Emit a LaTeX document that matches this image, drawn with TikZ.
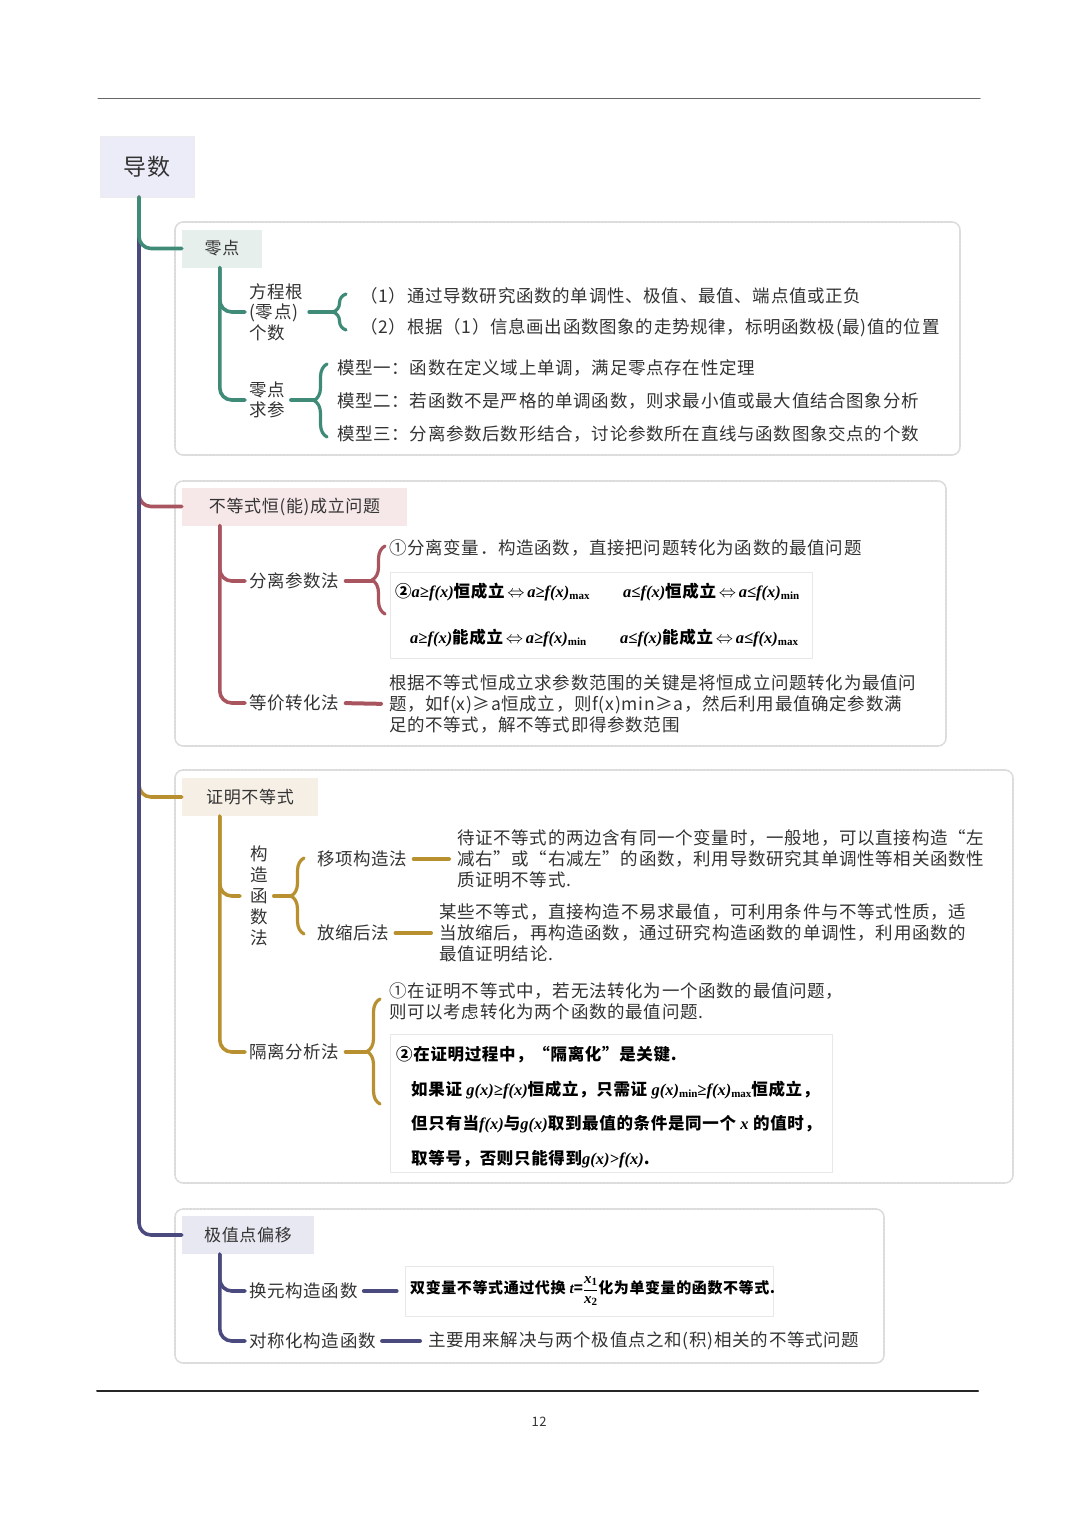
\documentclass[tikz,border=0pt]{standalone}
\usepackage{fontspec}
\setmainfont[LetterSpace=4]{Noto Sans CJK SC}
\newfontfamily\tnr{Liberation Serif}
\usetikzlibrary{decorations.pathreplacing}

\definecolor{ink}{HTML}{333333}
\definecolor{grn}{HTML}{3F8B78}
\definecolor{rdd}{HTML}{A85560}
\definecolor{gld}{HTML}{B8902F}
\definecolor{nvy}{HTML}{4A4A7E}
\definecolor{hgrn}{HTML}{E6EFEC}
\definecolor{hrdd}{HTML}{F6E7E9}
\definecolor{hgld}{HTML}{F6EFE6}
\definecolor{hnvy}{HTML}{E7E8F1}
\definecolor{lav}{HTML}{EBECF8}

\newcommand\itx[1]{{\tnr\bfseries\itshape #1}}
\newcommand\lowtx[1]{{\tnr\bfseries\fontsize{11}{11}\selectfont\raisebox{-0.4ex}{#1}}}
\newcommand\equivto{\,$\Leftrightarrow$\,}

\begin{document}
\begin{tikzpicture}[x=1pt,y=-1pt,line cap=round,line join=round,
  limb/.style={draw=#1,line width=3.6pt,rounded corners=12pt},
  stub/.style={draw=#1,line width=4pt,shorten <=6pt,shorten >=8pt},
  bstub/.style={draw=#1,line width=4pt,shorten <=6pt},
  brc/.style={draw=#1,line width=3.2pt,decorate,decoration={brace,amplitude=13pt}},
  frm/.style={draw=gray!28,line width=1.6pt,dash pattern=on 2.5pt off 1pt,rounded corners=8pt,fill=white},
  hdr/.style={fill=#1,minimum height=38pt,inner sep=0pt,text=ink,font=\fontsize{17}{20}\selectfont},
  txt/.style={anchor=west,inner sep=0pt,text=ink,align=left,font=\fontsize{17.5}{21}\selectfont},
  fml/.style={anchor=west,inner sep=0pt,text=black,font=\fontsize{16.5}{19}\selectfont\bfseries},
  picbx/.style={draw=gray!18,line width=0.8pt,fill=white}]
\useasboundingbox (0,0) rectangle (1080,1517);
\fill[white] (0,0) rectangle (1080,1517);

% page rules
\draw[gray!80!black,line width=1pt] (98,99) -- (980,99);
\draw[black!85,line width=2pt] (97,1391) -- (978,1391);
\node[text=ink,font=\fontsize{13}{13}\selectfont] (pg) at (539,1422) {12};

% frames
\draw[frm] (175,222) rectangle (960,455);
\draw[frm] (175,481) rectangle (946,746);
\draw[frm] (175,770) rectangle (1013,1183);
\draw[frm] (175,1209) rectangle (884,1363);

% root and headers
\node[fill=lav,draw=gray!15,minimum width=94pt,minimum height=61pt,text=ink,font=\fontsize{23}{23}\selectfont] (root) at (147,166.5) {导数};
\node[hdr=hgrn,minimum width=80pt] (hz) at (222,248.5) {零点};
\node[hdr=hrdd,minimum width=225pt] (hb) at (294.5,506.5) {不等式恒(能)成立问题};
\node[hdr=hgld,minimum width=136pt] (hp) at (250,797) {证明不等式};
\node[hdr=hnvy,minimum width=132pt] (hj) at (248,1235) {极值点偏移};

% main branches
\draw[limb=rdd] ([xshift=-8pt]root.south) |- (hb.west);
\draw[limb=gld] ([xshift=-8pt]root.south) |- (hp.west);
\draw[limb=nvy] ([xshift=-8pt]root.south) |- (hj.west);
\draw[limb=grn] ([xshift=-8pt]root.south) |- (hz.west);

% ---- 零点
\node[txt,font=\fontsize{17.5}{20.5}\selectfont] (fcg) at (249,312) {方程根\\(零点)\\个数};
\node[txt,font=\fontsize{17.5}{20.5}\selectfont] (lqc) at (249,400) {零点\\求参};
\draw[limb=grn] ([xshift=38pt]hz.south west) |- ([xshift=-4pt]fcg.west);
\draw[limb=grn] ([xshift=38pt]hz.south west) |- ([xshift=-4pt]lqc.west);
\coordinate (t1) at (333,312);
\draw[brc=grn] (346,330) -- (346,294);
\draw[bstub=grn] (fcg.east) -- (t1);
\node[txt] (z1) at (360,296) {（1）通过导数研究函数的单调性、极值、最值、端点值或正负};
\node[txt] (z2) at (360,328) {（2）根据（1）信息画出函数图象的走势规律，标明函数极(最)值的位置};
\coordinate (t2) at (314,400);
\draw[brc=grn] (327,437) -- (327,364);
\draw[bstub=grn] (lqc.east) -- (t2);
\node[txt] (m1) at (337,368) {模型一：函数在定义域上单调，满足零点存在性定理};
\node[txt] (m2) at (337,401) {模型二：若函数不是严格的单调函数，则求最小值或最大值结合图象分析};
\node[txt] (m3) at (337,434) {模型三：分离参数后数形结合，讨论参数所在直线与函数图象交点的个数};

% ---- 不等式恒(能)成立问题
\node[txt] (flf) at (249,581) {分离参数法};
\node[txt] (djz) at (249,703) {等价转化法};
\draw[limb=rdd] ([xshift=38pt]hb.south west) |- ([xshift=-4pt]flf.west);
\draw[limb=rdd] ([xshift=38pt]hb.south west) |- ([xshift=-4pt]djz.west);
\coordinate (t3) at (372,581);
\draw[brc=rdd] (385,614) -- (385,546);
\draw[bstub=rdd] (flf.east) -- (t3);
\node[txt] (s1) at (389,548) {①分离变量．构造函数，直接把问题转化为函数的最值问题};
\node[picbx,minimum width=422pt,minimum height=86pt] (fb) at (601,615) {};
\node[fml] (q1) at (395,592) {②\itx{a≥f(x)}恒成立\equivto\itx{a≥f(x)}\lowtx{max}};
\node[fml] (q2) at (623,592) {\itx{a≤f(x)}恒成立\equivto\itx{a≤f(x)}\lowtx{min}};
\node[fml] (q3) at (410,638) {\itx{a≥f(x)}能成立\equivto\itx{a≥f(x)}\lowtx{min}};
\node[fml] (q4) at (620,638) {\itx{a≤f(x)}能成立\equivto\itx{a≤f(x)}\lowtx{max}};
\node[txt] (p1) at (389,704) {根据不等式恒成立求参数范围的关键是将恒成立问题转化为最值问\\题，如f(x)≥a恒成立，则f(x)min≥a，然后利用最值确定参数满\\足的不等式，解不等式即得参数范围};
\draw[stub=rdd] (djz.east) -- (p1.west);

% ---- 证明不等式
\node[align=center,inner sep=0pt,text=ink,font=\fontsize{17.5}{21}\selectfont] (gz) at (259,896) {构\\造\\函\\数\\法};
\node[txt] (gl) at (249,1052) {隔离分析法};
\draw[limb=gld] ([xshift=38pt]hp.south west) |- ([xshift=-10pt]gz.west);
\draw[limb=gld] ([xshift=38pt]hp.south west) |- ([xshift=-4pt]gl.west);
\coordinate (t4) at (290,896);
\draw[brc=gld] (304,934) -- (304,858);
\draw[bstub=gld] (gz.east) -- (t4);
\node[txt] (yx) at (317,859) {移项构造法};
\node[txt] (fs) at (317,933) {放缩后法};
\node[txt] (pa) at (457,859) {待证不等式的两边含有同一个变量时，一般地，可以直接构造“左\\减右”或“右减左”的函数，利用导数研究其单调性等相关函数性\\质证明不等式.};
\node[txt] (pb) at (439,933) {某些不等式，直接构造不易求最值，可利用条件与不等式性质，适\\当放缩后，再构造函数，通过研究构造函数的单调性，利用函数的\\最值证明结论.};
\draw[stub=gld] (yx.east) -- (pa.west);
\draw[stub=gld] (fs.east) -- (pb.west);
\coordinate (t5) at (366,1052);
\draw[brc=gld] (380,1104) -- (380,999);
\draw[bstub=gld] (gl.east) -- (t5);
\node[txt] (r1) at (389,1001) {①在证明不等式中，若无法转化为一个函数的最值问题，\\则可以考虑转化为两个函数的最值问题.};
\node[picbx,minimum width=442pt,minimum height=138pt] (gb) at (611,1103) {};
\node[fml] (g1) at (396,1055) {②在证明过程中，“隔离化”是关键.};
\node[fml] (g2) at (411,1090) {如果证 \itx{g(x)≥f(x)}恒成立，只需证 \itx{g(x)}\lowtx{min}\itx{≥f(x)}\lowtx{max}恒成立，};
\node[fml] (g3) at (411,1124) {但只有当\itx{f(x)}与\itx{g(x)}取到最值的条件是同一个 \itx{x} 的值时，};
\node[fml] (g4) at (411,1159) {取等号，否则只能得到\itx{g(x)>f(x)}.};

% ---- 极值点偏移
\node[txt] (hy) at (249,1291) {换元构造函数};
\node[txt] (dc) at (249,1341) {对称化构造函数};
\draw[limb=nvy] ([xshift=38pt]hj.south west) |- ([xshift=-4pt]hy.west);
\draw[limb=nvy] ([xshift=38pt]hj.south west) |- ([xshift=-4pt]dc.west);
\node[picbx,minimum width=368pt,minimum height=50pt] (tb) at (589,1291) {};
\node[fml,font=\fontsize{15}{17}\selectfont\bfseries] (tx) at (410,1291) {双变量不等式通过代换 \itx{t}=$\displaystyle\frac{\hbox{\itx{x}\lowtx{1}}}{\hbox{\itx{x}\lowtx{2}}}$化为单变量的函数不等式.};
\draw[stub=nvy] (hy.east) -- (tb.west);
\node[txt] (zy) at (428,1341) {主要用来解决与两个极值点之和(积)相关的不等式问题};
\draw[stub=nvy] (dc.east) -- (zy.west);
\end{tikzpicture}
\end{document}
